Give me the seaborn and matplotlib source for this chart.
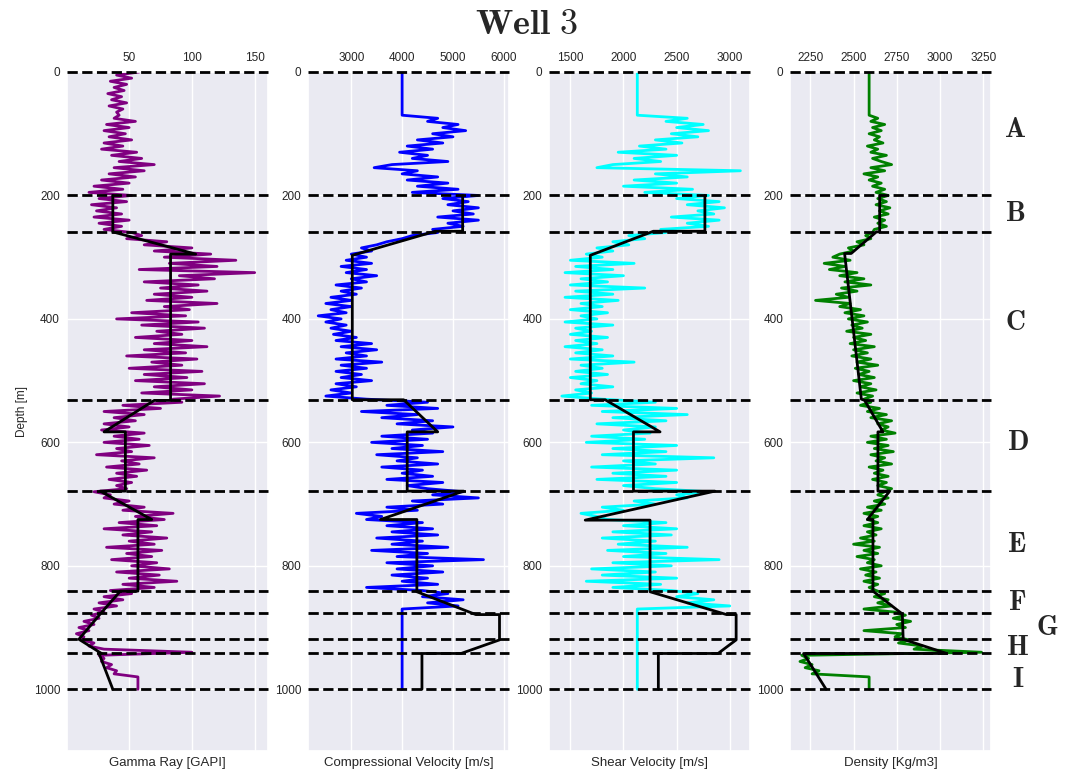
import numpy as np
import pandas as pd
import matplotlib
matplotlib.use('Agg')
import matplotlib.pyplot as plt
import seaborn as sns

sns.set_theme(style='darkgrid')
plt.rcParams['font.family'] = ['Liberation Sans', 'DejaVu Sans']
plt.rcParams['mathtext.fontset'] = 'cm'

# ---------------- data (sampled every 5 m, 0 .. 1000 m) ----------------
gamma_ray = [
    58, 40, 52, 35, 48, 38, 46, 33, 44, 36, 48, 34, 45, 40, 42, 38, 55, 32, 50, 30,
    47, 34, 52, 30, 45, 28, 56, 36, 60, 42, 70, 38, 62, 34, 55, 28, 50, 22, 45, 18,
    52, 26, 48, 20, 40, 24, 44, 22, 50, 26, 44, 30, 52, 60, 48, 80, 62, 100, 70, 115,
    78, 135, 82, 120, 58, 150, 90, 118, 62, 105, 75, 112, 70, 100, 64, 120, 78, 98, 52, 95,
    40, 105, 60, 110, 72, 92, 55, 100, 70, 112, 62, 95, 48, 104, 68, 92, 50, 108, 62, 96,
    55, 110, 70, 100, 60, 122, 85, 92, 45, 75, 30, 62, 38, 55, 30, 50, 28, 62, 38, 58,
    30, 66, 40, 52, 24, 70, 44, 58, 32, 64, 40, 56, 34, 52, 40, 48, 22, 35, 30, 50,
    38, 62, 45, 85, 55, 78, 42, 72, 30, 68, 45, 80, 50, 70, 32, 76, 48, 68, 36, 72,
    52, 82, 40, 74, 50, 88, 45, 70, 35, 52, 30, 45, 26, 40, 22, 30, 20, 26, 14, 22,
    10, 18, 8, 14, 12, 22, 18, 30, 100, 26, 30, 28, 36, 32, 40, 38, 57, 57, 57, 57,
    57,
]

p_velocity = [
    4000, 4000, 4000, 4000, 4000, 4000, 4000, 4000, 4000, 4000, 4000, 4000, 4000, 4000, 4000, 4700, 4500, 5100, 4800, 5250,
    4600, 5000, 4300, 4800, 4100, 4600, 3950, 4500, 4200, 4900, 3800, 3450, 4300, 4000, 4700, 4100, 4900, 4300, 5100, 4200,
    5500, 4800, 5300, 4900, 5500, 5000, 5400, 4700, 5500, 4900, 5200, 4600, 4700, 4200, 4000, 3700, 3500, 3200, 3400, 3000,
    3300, 2900, 3400, 2800, 3300, 2900, 3500, 3000, 3300, 2700, 3200, 2800, 3100, 2600, 3000, 2500, 3000, 2600, 2900, 2350,
    2800, 2500, 2900, 2600, 3000, 2650, 3100, 2700, 3400, 2800, 3500, 2900, 3300, 2700, 3600, 2800, 3300, 2700, 3200, 2800,
    3400, 2700, 3100, 2600, 3000, 2500, 3300, 4500, 3700, 4700, 3200, 4300, 3600, 4600, 3900, 5000, 4200, 4600, 3600, 4500,
    3400, 4400, 3800, 4800, 3500, 4300, 3900, 4700, 3600, 4400, 4000, 4600, 3700, 4800, 4100, 4500, 5200, 4600, 5500, 4200,
    4800, 3700, 4300, 3100, 3600, 3300, 4400, 3700, 4600, 3800, 4700, 3500, 4400, 3800, 4900, 3400, 4500, 3900, 5600, 3700,
    4600, 3900, 4800, 3800, 4500, 4000, 4700, 3300, 4400, 4900, 4400, 5200, 4500, 5100, 4000, 4000, 4000, 4000, 4000, 4000,
    4000, 4000, 4000, 4000, 4000, 4000, 4000, 4000, 4000, 4000, 4000, 4000, 4000, 4000, 4000, 4000, 4000, 4000, 4000, 4000,
    4000,
]

s_velocity = [
    2130, 2130, 2130, 2130, 2130, 2130, 2130, 2130, 2130, 2130, 2130, 2130, 2130, 2130, 2130, 2600, 2400, 2750, 2500, 2800,
    2450, 2700, 2300, 2550, 2150, 2400, 1950, 2500, 2100, 2350, 1900, 1750, 3100, 2300, 2600, 2100, 2500, 2000, 2650, 2200,
    2800, 2500, 2900, 2600, 2950, 2700, 2850, 2450, 2900, 2600, 2800, 2350, 2400, 2050, 2200, 1900, 2050, 1750, 1900, 1650,
    1800, 1500, 2100, 1550, 1900, 1450, 2000, 1600, 1850, 1500, 2200, 1550, 1900, 1450, 1950, 1600, 1800, 1500, 1850, 1600,
    1750, 1450, 1900, 1550, 1700, 1500, 1850, 1550, 1750, 1450, 1800, 1550, 1900, 1500, 2100, 1600, 1800, 1550, 1850, 1500,
    1750, 1600, 1900, 1550, 1700, 1420, 1800, 2300, 1700, 2500, 1800, 2600, 1900, 2400, 1750, 2300, 2000, 2250, 1700, 2200,
    1650, 2500, 1900, 2400, 1800, 2850, 2000, 2300, 1700, 2500, 1900, 2400, 1750, 2500, 2000, 2300, 2800, 2500, 2600, 2100,
    2300, 1800, 2000, 1600, 1750, 1850, 2400, 2000, 2500, 1900, 2450, 1800, 2300, 1950, 2600, 1850, 2400, 2000, 2900, 1900,
    2450, 1700, 2300, 1800, 2500, 1650, 2350, 1900, 2450, 2700, 2500, 2850, 2600, 3000, 2130, 2130, 2130, 2130, 2130, 2130,
    2130, 2130, 2130, 2130, 2130, 2130, 2130, 2130, 2130, 2130, 2130, 2130, 2130, 2130, 2130, 2130, 2130, 2130, 2130, 2130,
    2130,
]

density = [
    2590, 2590, 2590, 2590, 2590, 2590, 2590, 2590, 2590, 2590, 2590, 2590, 2590, 2590, 2590, 2640, 2600, 2680, 2610, 2660,
    2590, 2650, 2620, 2670, 2580, 2640, 2600, 2690, 2610, 2660, 2720, 2600, 2680, 2560, 2640, 2590, 2660, 2610, 2680, 2630,
    2700, 2640, 2690, 2630, 2710, 2650, 2700, 2620, 2680, 2640, 2690, 2620, 2610, 2570, 2600, 2520, 2560, 2470, 2500, 2420,
    2380, 2480, 2330, 2450, 2360, 2520, 2420, 2560, 2450, 2600, 2430, 2520, 2400, 2470, 2280, 2480, 2420, 2540, 2450, 2560,
    2470, 2580, 2490, 2550, 2460, 2600, 2500, 2570, 2480, 2620, 2500, 2580, 2490, 2600, 2520, 2640, 2510, 2590, 2530, 2620,
    2500, 2600, 2540, 2630, 2520, 2610, 2560, 2600, 2540, 2650, 2580, 2690, 2600, 2720, 2640, 2700, 2660, 2740, 2600, 2690,
    2580, 2700, 2620, 2730, 2600, 2680, 2630, 2720, 2590, 2670, 2620, 2700, 2610, 2690, 2640, 2720, 2680, 2640, 2700, 2620,
    2680, 2580, 2660, 2560, 2640, 2580, 2640, 2560, 2660, 2580, 2630, 2540, 2620, 2500, 2650, 2560, 2640, 2520, 2620, 2580,
    2660, 2540, 2630, 2570, 2650, 2560, 2640, 2590, 2630, 2680, 2620, 2700, 2640, 2720, 2560, 2740, 2800, 2730, 2830, 2750,
    2800, 2560, 2780, 2740, 2820, 2760, 2900, 2850, 3240, 2200, 2240, 2190, 2260, 2220, 2300, 2260, 2590, 2590, 2590, 2590,
    2590,
]

# zone model (black) lines: depth / value pairs
gr_trend_depth = [200, 259, 295, 295, 532, 532, 583, 583, 679, 679, 725, 725, 841, 841, 878, 919, 942, 942, 1000]
gr_trend_value = [37, 37, 103, 83, 83, 70, 30, 47, 47, 27, 68, 57, 57, 43, 27, 10, 28, 26, 37]

vp_trend_depth = [200, 258, 258, 297, 531, 531, 583, 583, 679, 679, 725, 725, 842, 879, 879, 920, 942, 942, 1000]
vp_trend_value = [5190, 5190, 4650, 3020, 3020, 4030, 4700, 4100, 4100, 5210, 3575, 4290, 4290, 5450, 5915, 5915, 5160, 4390, 4390]

vs_trend_depth = [200, 258, 258, 297, 531, 531, 583, 583, 679, 679, 726, 726, 842, 879, 879, 920, 942, 942, 1000]
vs_trend_value = [2766, 2766, 2281, 1688, 1688, 1828, 2344, 2094, 2094, 2860, 1640, 2250, 2250, 2970, 3060, 3060, 2890, 2328, 2328]

den_trend_depth = [200, 259, 259, 294, 294, 530, 532, 583, 583, 679, 679, 725, 725, 841, 878, 919, 942, 942, 1000]
den_trend_value = [2651, 2651, 2632, 2486, 2448, 2545, 2564, 2670, 2641, 2641, 2709, 2580, 2612, 2612, 2782, 2787, 3039, 2211, 2341]

zone_tops = [0, 200, 259, 532, 679, 841, 877, 919, 941, 1000]
zone_names = ['A', 'B', 'C', 'D', 'E', 'F', 'G', 'H', 'I']
# label positions in figure pixels (x, y)
zone_label_px = [(1015, 130), (1015, 214), (1015, 323), (1018, 443), (1017, 545),
                 (1017, 603), (1047, 628), (1017, 648), (1018, 680)]

depth = 5 * np.arange(len(gamma_ray))

W, H = 1067, 774
fig = plt.figure(figsize=(W / 100, H / 100), dpi=100)
axes = fig.subplots(1, 4)
fig.subplots_adjust(left=67 / W, right=991 / W, top=1 - 72 / H, bottom=1 - 751 / H, wspace=0.2)

panels = [
    (gamma_ray, 'purple', gr_trend_depth, gr_trend_value, (0.5, 160.5), [50, 100, 150], 'Gamma Ray [GAPI]'),
    (p_velocity, 'blue', vp_trend_depth, vp_trend_value, (2150, 6100), [3000, 4000, 5000, 6000], 'Compressional Velocity [m/s]'),
    (s_velocity, 'cyan', vs_trend_depth, vs_trend_value, (1300, 3190), [1500, 2000, 2500, 3000], 'Shear Velocity [m/s]'),
    (density, 'green', den_trend_depth, den_trend_value, (2133, 3295), [2250, 2500, 2750, 3000, 3250], 'Density [Kg/m3]'),
]

for i, (ax, (vals, color, tdep, tval, xlim, xticks, label)) in enumerate(zip(axes, panels)):
    df = pd.DataFrame({'depth': depth, 'value': vals})
    sns.lineplot(data=df, x='value', y='depth', sort=False, estimator=None,
                 color=color, lw=2, ax=ax)
    tdf = pd.DataFrame({'depth': tdep, 'value': tval})
    sns.lineplot(data=tdf, x='value', y='depth', sort=False, estimator=None,
                 color='black', lw=2, ax=ax)
    for b in zone_tops:
        ax.axhline(b, color='black', ls='--', lw=2, clip_on=False, zorder=5)
    ax.set_xlim(xlim)
    ax.set_ylim(1100, 0)
    ax.set_yticks([0, 200, 400, 600, 800, 1000])
    ax.set_xticks(xticks)
    ax.xaxis.tick_top()
    ax.xaxis.set_label_position('bottom')
    ax.set_xlabel(label, fontsize=9.5, color='.15')
    ax.set_ylabel('Depth [m]' if i == 0 else '', fontsize=8.5, color='.15')
    ax.tick_params(axis='x', labelsize=8.5, pad=6, length=0, colors='.15')
    ax.tick_params(axis='y', labelsize=8.5, pad=5, length=0, colors='.15')

for name, (px, py) in zip(zone_names, zone_label_px):
    fig.text(px / W, 1 - py / H, r'$\mathbf{%s}$' % name, fontsize=20,
             ha='center', va='center')

fig.text(527 / W, 1 - 24 / H, r'$\mathbf{Well\ 3}$', fontsize=26, ha='center', va='center')

fig.savefig('out.png', dpi=100)
